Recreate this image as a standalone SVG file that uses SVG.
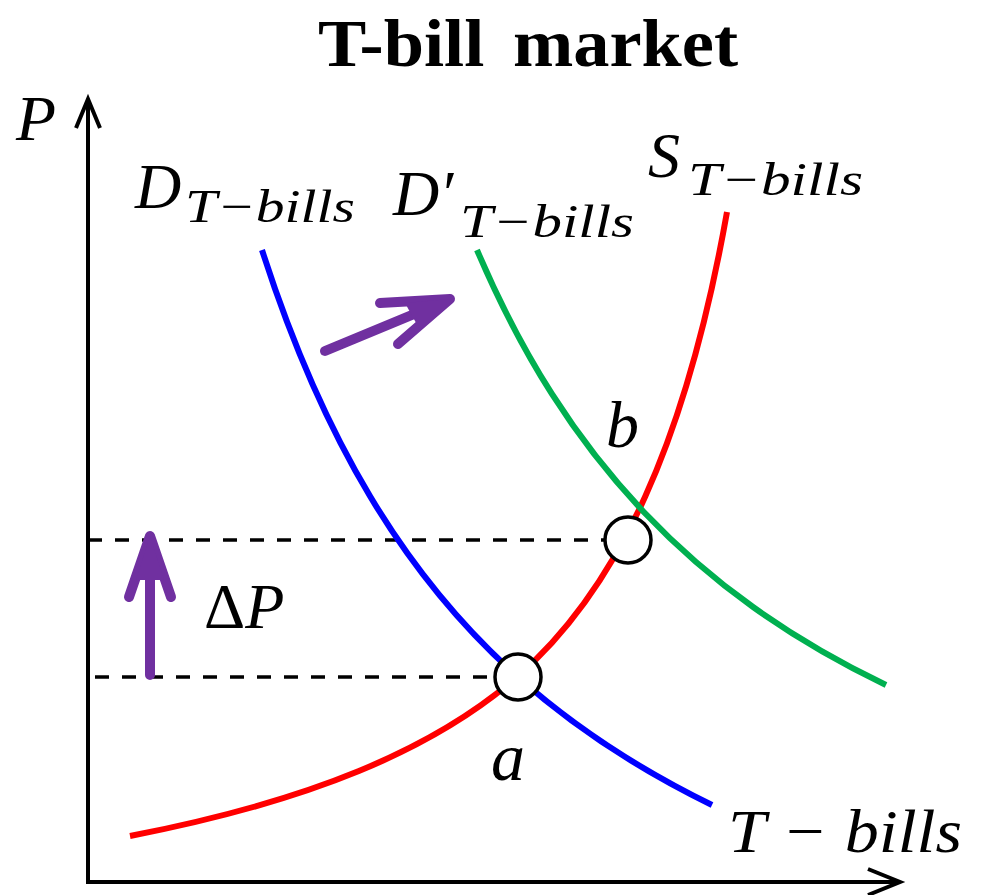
<svg xmlns="http://www.w3.org/2000/svg" width="986" height="895" viewBox="0 0 986 895">
<style>
.title{font-family:"Liberation Serif",serif;font-weight:bold;font-size:68px;fill:#000}
.m{font-family:"Liberation Serif",serif;font-style:italic;fill:#000}
.big{font-size:64px}
.sub{font-size:46px}
.axis{fill:none;stroke:#000;stroke-width:4;stroke-linecap:butt;stroke-linejoin:miter}
.curve{fill:none;stroke-width:6;stroke-linecap:butt}
.dash{fill:none;stroke:#000;stroke-width:3.5;stroke-dasharray:14 13}
.shift{fill:none;stroke:#7030A0;stroke-width:10;stroke-linecap:round;stroke-linejoin:round}
.pt{fill:#fff;stroke:#000;stroke-width:3.5}
</style>
<rect width="986" height="895" fill="#fff"/>
<g id="title"><text class="title" x="318" y="66" textLength="420" lengthAdjust="spacingAndGlyphs" word-spacing="10">T-bill market</text></g>
<g id="axes">
<path class="axis" d="M88,99 L88,882 L900,882"/>
<path class="axis" d="M76,128 L88,99 L100,128"/>
<path class="axis" d="M868,869 L900,882 L868,895"/>
<text class="m big" x="16" y="140" textLength="40" lengthAdjust="spacingAndGlyphs">P</text>
<text class="m" font-size="62" x="728" y="852" textLength="234" lengthAdjust="spacingAndGlyphs">T − bills</text>
</g>
<g id="connectors">
<line class="dash" x1="88" y1="540" x2="606" y2="540"/>
<line class="dash" x1="95" y1="677" x2="495" y2="677"/>
</g>
<g id="supply">
<path class="curve" stroke="#FF0000" d="M130,836 C308.8,801.3 432.6,750.4 517,677 C619.5,587.9 686.7,439.1 727,212"/>
<text class="m big" x="648" y="177">S</text>
<text class="m sub" x="688" y="195" textLength="175" lengthAdjust="spacingAndGlyphs">T−bills</text>
</g>
<g id="demand">
<path class="curve" stroke="#0000FF" d="M262,250 C322.7,439.2 404.6,575.9 518,677 C574,727 636.1,767.9 712,805"/>
<text class="m big" x="135" y="208">D</text>
<text class="m sub" x="185" y="222" textLength="170" lengthAdjust="spacingAndGlyphs">T−bills</text>
</g>
<g id="demand-shifted">
<path class="curve" stroke="#00B050" d="M477,250 C522.4,356.4 575.8,440.2 643.8,512 C710.4,582.2 787.9,637.6 886,685"/>
<text class="m big" x="393" y="215">D′</text>
<text class="m sub" x="460" y="237" textLength="174" lengthAdjust="spacingAndGlyphs">T−bills</text>
</g>
<g id="shift-arrow">
<path class="shift" d="M325,351 L448,300 M380,303 L450,299 L398,344"/>
<path d="M405,303 L450,299 L420,330 Z" fill="#7030A0"/>
</g>
<g id="delta-p">
<path class="shift" d="M150,675 L150,538 M129,597 L150,536 L171,597"/>
<path d="M150,536 L136,580 L164,580 Z" fill="#7030A0"/>
<text x="204" y="628" font-size="64" font-family="Liberation Serif,serif" fill="#000">Δ<tspan font-style="italic">P</tspan></text>
</g>
<g id="point-a">
<circle class="pt" cx="518" cy="677" r="23"/>
<text class="m" font-size="68" x="491" y="780">a</text>
</g>
<g id="point-b">
<circle class="pt" cx="628" cy="540" r="23"/>
<text class="m" font-size="66" x="606" y="447">b</text>
</g>
</svg>
